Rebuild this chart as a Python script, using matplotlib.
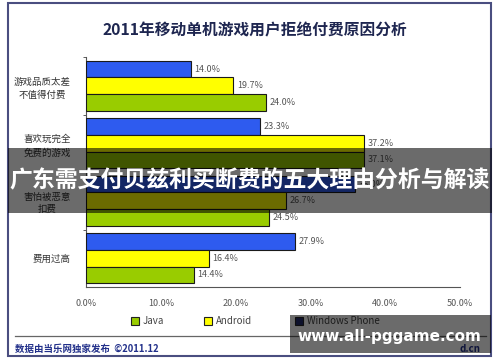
import matplotlib
matplotlib.use("Agg")
import matplotlib.pyplot as plt
from matplotlib.patches import Rectangle
import numpy as np

plt.rcParams['font.family'] = ['Noto Sans CJK SC', 'DejaVu Sans']

categories = ["游戏品质太差\n不值得付费", "喜欢玩完全\n免费的游戏", "害怕被恶意\n扣费", "费用过高"]
wp_values = [14.0, 23.3, 36.0, 27.9]
android_values = [19.7, 37.2, 26.7, 16.4]
java_values = [24.0, 37.1, 24.5, 14.4]
x_ticks = [0, 10, 20, 30, 40, 50]
x_tick_labels = ["0.0%", "10.0%", "20.0%", "30.0%", "40.0%", "50.0%"]
legend_names = ["Java", "Android", "Windows Phone"]

title = "2011年移动单机游戏用户拒绝付费原因分析"
banner = "广东需支付贝兹利买断费的五大理由分析与解读"
site = "www.all-pggame.com"
footer = "数据由当乐网独家发布  ©2011.12"

colors = {"Windows Phone": "#2E5BEF", "Android": "#FFFF00", "Java": "#99CC00"}

W, H = 500, 362
fig = plt.figure(figsize=(W / 100, H / 100), dpi=100)
fig.patch.set_facecolor("white")

def fx(px):
    return px / W

def fy(py):
    return 1 - py / H

ax = fig.add_axes([fx(86), fy(287), fx(460) - fx(86), fy(57) - fy(287)])

y = np.arange(len(categories))
h = 0.29
series = [("Windows Phone", wp_values, -h), ("Android", android_values, 0), ("Java", java_values, h)]
for name, vals, off in series:
    ax.barh(y + off, vals, height=h, color=colors[name], edgecolor="#1a1a1a", linewidth=0.8, zorder=3)
    for yi, v in zip(y, vals):
        ax.text(v + 0.5, yi + off, f"{v:.1f}%", va="center", ha="left", fontsize=6.5, color="#555555")

ax.set_xlim(0, 50)
ax.set_ylim(3.5, -0.5)
ax.set_xticks(x_ticks)
ax.set_xticklabels(x_tick_labels, fontsize=6.5, color="#555555")
ax.tick_params(axis="x", length=0, pad=9)
ax.set_yticks(y)
ax.set_yticklabels(categories, fontsize=6.8, color="#333333", multialignment="center", linespacing=1.5)
ax.tick_params(axis="y", length=0, pad=11)
ax.set_yticks(np.arange(len(categories)) - 0.5, minor=True)
ax.tick_params(axis="y", which="minor", length=2, color="#444444")
for s in ["top", "right"]:
    ax.spines[s].set_visible(False)
ax.spines["left"].set_color("#555555")
ax.spines["bottom"].set_color("#555555")
ax.spines["left"].set_linewidth(0.8)
ax.spines["bottom"].set_linewidth(0.8)
ax.set_facecolor("white")

# legend (manual placement)
legend_colors = {"Java": "#99CC00", "Android": "#FFFF00", "Windows Phone": "#1F2A6A"}
legend_x = [131, 204, 295]
for name, lx in zip(legend_names, legend_x):
    fig.patches.append(Rectangle((fx(lx), fy(325)), fx(8), 8 / H, transform=fig.transFigure,
                                 facecolor=legend_colors[name], edgecolor="#222222", linewidth=0.8))
    fig.text(fx(lx + 12), fy(321), name, ha="left", va="center", fontsize=7, color="#444444")

# title
fig.text(fx(255), fy(30), title, ha="center", va="center", fontsize=11.3, fontweight="bold", color="#1E2650")

# outer frame
fig.patches.append(Rectangle((fx(8), fy(356)), fx(491) - fx(8), fy(3) - fy(356), transform=fig.transFigure,
                             fill=False, edgecolor="#4A4E80", linewidth=1.5))
# footer line
fig.add_artist(plt.Line2D([fx(15), fx(486)], [fy(336), fy(336)], transform=fig.transFigure, color="#666666", linewidth=0.9))
fig.text(fx(15), fy(349), footer, ha="left", va="center", fontsize=6.8, fontweight="bold", color="#22308A")
fig.text(fx(481), fy(349), "d.cn", ha="right", va="center", fontsize=7, fontweight="bold", color="#22308A")

# overlay banners
fig.patches.append(Rectangle((fx(8), fy(213)), fx(492) - fx(8), fy(148) - fy(213), transform=fig.transFigure,
                             facecolor="black", alpha=0.58, edgecolor="none", zorder=10))
fig.text(fx(250), fy(181), banner, ha="center", va="center", fontsize=16.5, fontweight="bold", color="white", zorder=11)
fig.patches.append(Rectangle((fx(290), fy(353)), fx(491) - fx(290), fy(315) - fy(353), transform=fig.transFigure,
                             facecolor="black", alpha=0.58, edgecolor="none", zorder=10))
fig.text(fx(389), fy(336), site, ha="center", va="center", fontsize=11, fontweight="bold", color="white",
         family="DejaVu Sans", zorder=11)

fig.savefig("out.png", dpi=100)
